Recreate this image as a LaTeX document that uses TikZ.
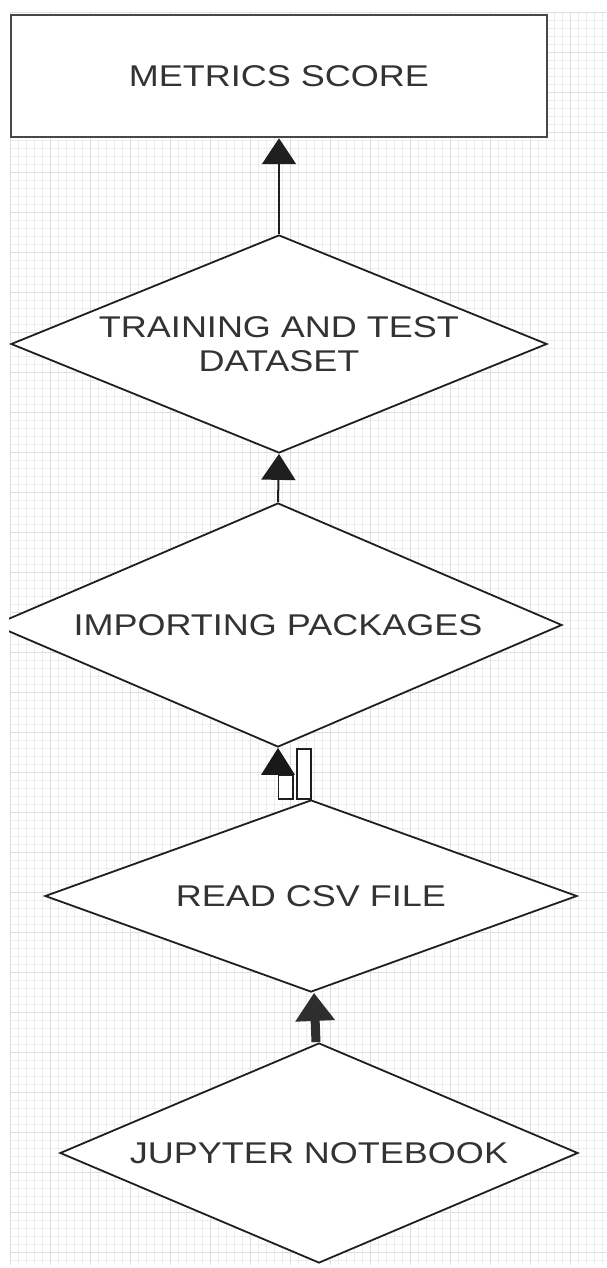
\documentclass[tikz,border=0pt]{standalone}
\usepackage{fontspec}
\setmainfont{Liberation Sans}[FakeStretch=1.2]
\usetikzlibrary{shapes.geometric,arrows.meta,calc}

\begin{document}
\begin{tikzpicture}[x=1pt,y=-1pt,
  every node/.style={font=\fontsize{30}{34}\selectfont, text=black!80},
  gridminor/.style={draw=black!7, line width=0.6pt},
  gridmajor/.style={draw=black!13, line width=0.7pt},
  flowbox/.style={rectangle, draw=black!72, line width=2.5pt, fill=white,
    minimum width=536pt, minimum height=122pt, inner sep=0pt},
  decision/.style={diamond, draw=black!88, line width=1.8pt, fill=white,
    inner sep=0pt, align=center},
  link/.style={draw=black!88, line width=2pt,
    -{Triangle[width=34pt,length=26pt]}},
  thicklink/.style={draw=black!82, line width=9pt,
    -{Triangle[width=38pt,length=28pt]}},
  oddpart/.style={draw=black!88, line width=1.6pt, fill=white},
]
\useasboundingbox (0,0) rectangle (606,1268);
\fill[white] (0,0) rectangle (606,1268);

\begin{scope}
  \clip (9,0) rectangle (606,1268);

  % background grid
  \foreach \gx in {10,18,...,606} \draw[gridminor] (\gx,12) -- (\gx,1265);
  \foreach \gy in {12,20,...,1265} \draw[gridminor] (10,\gy) -- (606,\gy);
  \foreach \gx in {10,50,...,606} \draw[gridmajor] (\gx,12) -- (\gx,1265);
  \foreach \gy in {12,52,...,1265} \draw[gridmajor] (10,\gy) -- (606,\gy);

  % flow steps
  \node[flowbox] (score) at (279,76) {METRICS SCORE};
  \node[decision, aspect=2.46, minimum width=536pt, minimum height=218pt] (train)
    at (279,344) {TRAINING AND TEST\\DATASET};
  \node[decision, aspect=2.33, minimum width=568pt, minimum height=244pt] (imp)
    at (278,625) {IMPORTING PACKAGES};
  \node[decision, aspect=2.77, minimum width=532pt, minimum height=192pt] (read)
    at (311,896) {READ CSV FILE};
  \node[decision, aspect=2.35, minimum width=518pt, minimum height=220pt] (jup)
    at (319,1153) {JUPYTER NOTEBOOK};

  % connectors
  \draw[link] (train.north) -- (score.south);
  \draw[link] (imp.north) -- (train.south);
  \draw[thicklink] ($(jup.north)+(-3,0)$) -- ($(read.south)+(3,0)$);

  % hollow arrow between READ CSV FILE and IMPORTING PACKAGES
  \draw[oddpart] ($(read.north)+(-14,-50)$) rectangle (read.north);
  \draw[oddpart] ($(imp.south)+(0.5,27)$) rectangle ($(read.north)+(-18,0)$);
  \fill[black!90] (imp.south) -- ++(-17,27) -- ++(34,0) -- cycle;
\end{scope}
\end{tikzpicture}
\end{document}
